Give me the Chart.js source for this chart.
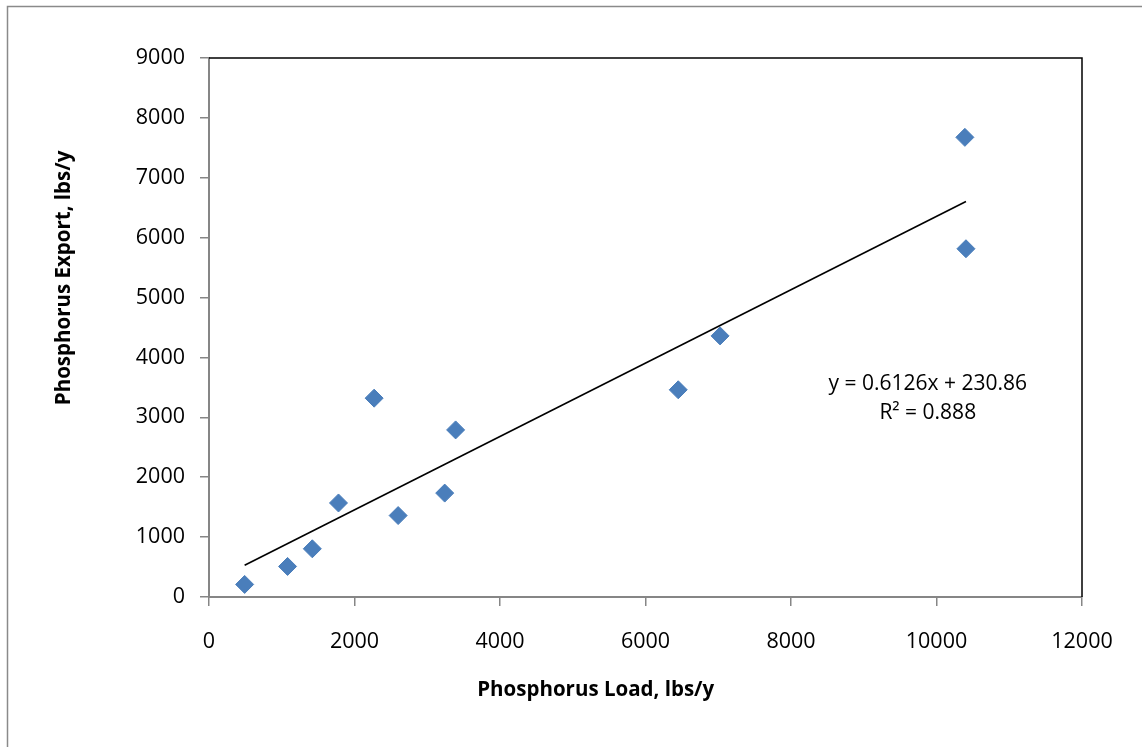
<!DOCTYPE html>
<html>
<head>
<meta charset="utf-8">
<script src="https://cdn.jsdelivr.net/npm/chart.js@4/dist/chart.umd.min.js"></script>
<style>
  html, body { margin: 0; padding: 0; background: #fff; }
  #wrap { width: 1142px; height: 747px; position: relative; }
</style>
</head>
<body>
<div id="wrap"><canvas id="chart"></canvas></div>
<script>
// Phosphorus load vs export (lbs/y)
const loadValues = [490, 1080, 1420, 1780, 2270, 2600, 3240, 3390, 6450, 7025, 10390, 10405];
const exportValues = [210, 510, 805, 1570, 3320, 1360, 1735, 2790, 3460, 4360, 7675, 5815];

// linear trendline as drawn (end points)
const trendX = [490, 10405];
const trendY = [531, 6605];
const trendLabel = ['y = 0.6126x + 230.86', 'R² = 0.888'];
const trendLabelAt = { x: 9880, y: 3550 };

const xTicks = [0, 2000, 4000, 6000, 8000, 10000, 12000];
const yTicks = [0, 1000, 2000, 3000, 4000, 5000, 6000, 7000, 8000, 9000];

const xTitle = 'Phosphorus Load, lbs/y';
const yTitle = 'Phosphorus Export, lbs/y';

const FONT = "'Open Sans', 'Noto Sans', sans-serif";
const AXIS_GREY = '#868686';
const MARKER = '#4a7ebb';

const decorations = {
    id: 'decorations',
    beforeDraw(chart) {
        const ctx = chart.ctx;
        ctx.save();
        ctx.fillStyle = '#fff';
        ctx.fillRect(0, 0, chart.width, chart.height);
        // outer chart border (runs off the right and bottom edges)
        ctx.strokeStyle = '#8a8a8a';
        ctx.lineWidth = 1.5;
        ctx.strokeRect(7.5, 6.5, chart.width + 20, chart.height + 20);
        ctx.restore();
    },
    afterDatasetsDraw(chart) {
        const ctx = chart.ctx;
        const a = chart.chartArea;
        const xs = chart.scales.x, ys = chart.scales.y;
        ctx.save();
        // plot area frame (top and right)
        ctx.strokeStyle = '#000';
        ctx.lineWidth = 1.5;
        ctx.beginPath();
        ctx.moveTo(a.left, a.top);
        ctx.lineTo(a.right, a.top);
        ctx.lineTo(a.right, a.bottom);
        ctx.stroke();

        // trendline equation
        ctx.fillStyle = '#000';
        ctx.font = '21px ' + FONT;
        ctx.textAlign = 'center';
        ctx.textBaseline = 'middle';
        const lx = xs.getPixelForValue(trendLabelAt.x);
        const ly = ys.getPixelForValue(trendLabelAt.y);
        ctx.fillText(trendLabel[0], lx, ly);
        ctx.fillText(trendLabel[1], lx, ly + 29);

        // axis titles
        ctx.font = 'bold 20.5px ' + FONT;
        ctx.fillText(xTitle, a.left + (a.right - a.left) * 0.443, 690);
        ctx.translate(64, a.top + (a.bottom - a.top) * 0.408);
        ctx.rotate(-Math.PI / 2);
        ctx.fillText(yTitle, 0, 0);
        ctx.restore();
    }
};

new Chart(document.getElementById('chart'), {
    type: 'scatter',
    data: {
        datasets: [{
            label: 'Export',
            data: loadValues.map((x, i) => ({ x: x, y: exportValues[i] })),
            pointStyle: 'rectRot',
            pointRadius: 9,
            pointHoverRadius: 9,
            backgroundColor: MARKER,
            borderColor: MARKER,
            borderWidth: 1,
            order: 2
        }, {
            type: 'line',
            label: 'Linear',
            data: trendX.map((x, i) => ({ x: x, y: trendY[i] })),
            borderColor: '#000',
            borderWidth: 1.6,
            pointRadius: 0,
            fill: false,
            order: 1
        }]
    },
    options: {
        responsive: true,
        maintainAspectRatio: false,
        animation: false,
        devicePixelRatio: 1,
        layout: { padding: { left: 0, top: 58, right: 60, bottom: 0 } },
        plugins: {
            legend: { display: false },
            tooltip: { enabled: false }
        },
        scales: {
            x: {
                type: 'linear',
                min: 0,
                max: 12000,
                afterBuildTicks(scale) { scale.ticks = xTicks.map(v => ({ value: v })); },
                afterFit(scale) { scale.height = 150; },
                grid: { drawOnChartArea: false, color: AXIS_GREY, tickLength: 9, lineWidth: 1.5 },
                border: { color: AXIS_GREY, width: 2 },
                ticks: {
                    color: '#000', padding: 23, maxRotation: 0,
                    font: { family: FONT, size: 21.5 },
                    callback: v => String(v)
                }
            },
            y: {
                type: 'linear',
                min: 0,
                max: 9000,
                afterBuildTicks(scale) { scale.ticks = yTicks.map(v => ({ value: v })); },
                afterFit(scale) { scale.width = 209; },
                grid: { drawOnChartArea: false, color: AXIS_GREY, tickLength: 9, lineWidth: 1.5 },
                border: { color: AXIS_GREY, width: 2 },
                ticks: {
                    color: '#000', padding: 15,
                    font: { family: FONT, size: 21.5 },
                    callback: v => String(v)
                }
            }
        }
    },
    plugins: [decorations]
});
</script>
</body>
</html>
